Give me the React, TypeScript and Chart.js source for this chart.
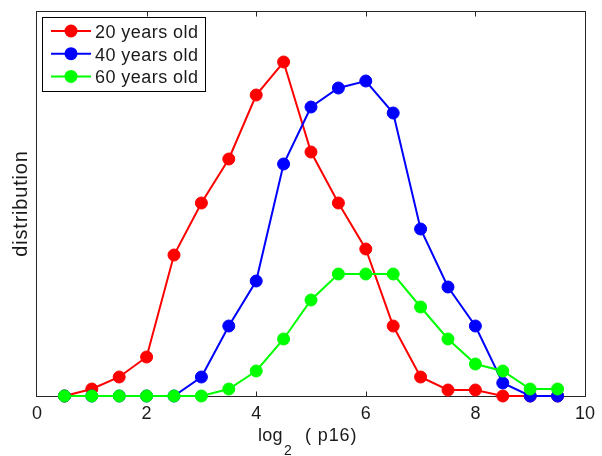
import React, { useEffect, useRef } from "react";
import { Chart, registerables } from "chart.js";

Chart.register(...registerables);

const xValues = [0.5, 1, 1.5, 2, 2.5, 3, 3.5, 4, 4.5, 5, 5.5, 6, 6.5, 7, 7.5, 8, 8.5, 9, 9.5];
const age20 = [0, 0.007, 0.019, 0.039, 0.141, 0.193, 0.237, 0.301, 0.334, 0.244, 0.193, 0.147, 0.070, 0.019, 0.006, 0.006, 0, 0, 0];
const age40 = [0, 0, 0, 0, 0, 0.019, 0.070, 0.115, 0.232, 0.289, 0.308, 0.315, 0.283, 0.167, 0.109, 0.070, 0.013, 0, 0];
const age60 = [0, 0, 0, 0, 0, 0, 0.007, 0.025, 0.057, 0.096, 0.122, 0.122, 0.122, 0.089, 0.057, 0.032, 0.025, 0.007, 0.007];
const seriesLabels = ["20 years old", "40 years old", "60 years old"];
const seriesColors = ["#ff0000", "#0000ff", "#00ff00"];
const xTicks = [0, 2, 4, 6, 8, 10];
const xTitleMain = "log";
const xTitleSub = "2";
const xTitleRest = "( p16)";
const yTitle = "distribution";

const FONT = '"Liberation Sans", Arial, Helvetica, sans-serif';
const TEXT = "#1a1a1a";
const AXIS = "#262626";

const framePlugin = {
  id: "frame",
  beforeDatasetsDraw(chart: any) {
    const { ctx, chartArea: a, scales } = chart;
    const x = scales.x;
    ctx.save();
    ctx.strokeStyle = AXIS;
    ctx.lineWidth = 1;
    const l = Math.round(a.left) - 0.5;
    const r = Math.round(a.right) + 0.5;
    const t = Math.round(a.top) + 0.5;
    const b = Math.round(a.bottom) + 0.5;
    ctx.strokeRect(l, t, r - l, b - t);
    ctx.beginPath();
    for (const v of xTicks) {
      if (v === xTicks[0] || v === xTicks[xTicks.length - 1]) continue;
      const px = Math.round(x.getPixelForValue(v)) + 0.5;
      ctx.moveTo(px, b);
      ctx.lineTo(px, b - 5);
      ctx.moveTo(px, t);
      ctx.lineTo(px, t + 5);
    }
    ctx.stroke();
    ctx.restore();
  },
  afterDraw(chart: any) {
    const { ctx, chartArea: a } = chart;
    ctx.save();
    // legend
    ctx.fillStyle = "#ffffff";
    ctx.fillRect(42.5, 17.5, 163, 74);
    ctx.strokeStyle = "#000000";
    ctx.lineWidth = 1;
    ctx.strokeRect(42.5, 17.5, 163, 74);
    ctx.font = `18px ${FONT}`;
    (ctx as any).letterSpacing = "0.45px";
    ctx.textBaseline = "alphabetic";
    ctx.textAlign = "left";
    for (let i = 0; i < seriesLabels.length; i++) {
      const y = 31 + i * 22.7;
      ctx.strokeStyle = seriesColors[i];
      ctx.lineWidth = 2;
      ctx.beginPath();
      ctx.moveTo(51, y);
      ctx.lineTo(91, y);
      ctx.stroke();
      ctx.fillStyle = seriesColors[i];
      ctx.beginPath();
      ctx.arc(71, y, 6.5, 0, Math.PI * 2);
      ctx.fill();
      ctx.fillStyle = TEXT;
      ctx.fillText(seriesLabels[i], 95, y + 7);
    }
    // x title
    ctx.fillStyle = TEXT;
    (ctx as any).letterSpacing = "0.3px";
    ctx.font = `18px ${FONT}`;
    ctx.fillText(xTitleMain, 258, 441);
    const w = ctx.measureText(xTitleMain).width;
    ctx.font = `14px ${FONT}`;
    ctx.fillText(xTitleSub, 258 + w + 1, 455);
    ctx.font = `18px ${FONT}`;
    (ctx as any).letterSpacing = "0.9px";
    ctx.fillText(xTitleRest, 305, 441);
    // y title
    (ctx as any).letterSpacing = "0.8px";
    ctx.font = `20px ${FONT}`;
    ctx.translate(27, (a.top + a.bottom) / 2);
    ctx.rotate(-Math.PI / 2);
    ctx.textAlign = "center";
    ctx.fillText(yTitle, 0, 0);
    ctx.restore();
  },
};

export default function App() {
  const ref = useRef<HTMLCanvasElement | null>(null);
  useEffect(() => {
    if (!ref.current) return;
    const mk = (vals: number[]) => vals.map((v, i) => ({ x: xValues[i], y: v }));
    const sets = [age20, age40, age60].map((vals, i) => ({
      label: seriesLabels[i],
      data: mk(vals),
      borderColor: seriesColors[i],
      backgroundColor: seriesColors[i],
      pointBackgroundColor: seriesColors[i],
      pointBorderColor: seriesColors[i],
      borderWidth: 2,
      pointRadius: 6,
      pointBorderWidth: 1,
      tension: 0,
      fill: false,
      clip: false as any,
      order: 3 - i,
    }));
    const chart = new Chart(ref.current, {
      type: "line",
      data: { datasets: sets as any },
      options: {
        animation: false,
        responsive: false,
        events: [],
        layout: { padding: { left: 0, right: 14, top: 11, bottom: 0 } },
        scales: {
          x: {
            type: "linear",
            min: 0,
            max: 10,
            afterBuildTicks: (s: any) => {
              s.ticks = xTicks.map((v) => ({ value: v }));
            },
            ticks: {
              color: TEXT,
              font: { size: 18, family: FONT },
              padding: 7,
              maxRotation: 0,
            },
            grid: { display: false, drawTicks: false },
            border: { display: false },
            afterFit: (s: any) => {
              s.height = 60;
            },
          },
          y: {
            type: "linear",
            min: 0,
            max: 0.385,
            ticks: { display: false },
            grid: { display: false, drawTicks: false },
            border: { display: false },
            afterFit: (s: any) => {
              s.width = 37;
            },
          },
        },
        plugins: {
          legend: { display: false },
          tooltip: { enabled: false },
        },
      },
      plugins: [framePlugin],
    });
    return () => chart.destroy();
  }, []);
  return (
    <div style={{ position: "fixed", left: 0, top: 0, width: 602, height: 456, background: "#fff" }}>
      <canvas ref={ref} width={602} height={456} style={{ display: "block" }} />
    </div>
  );
}
